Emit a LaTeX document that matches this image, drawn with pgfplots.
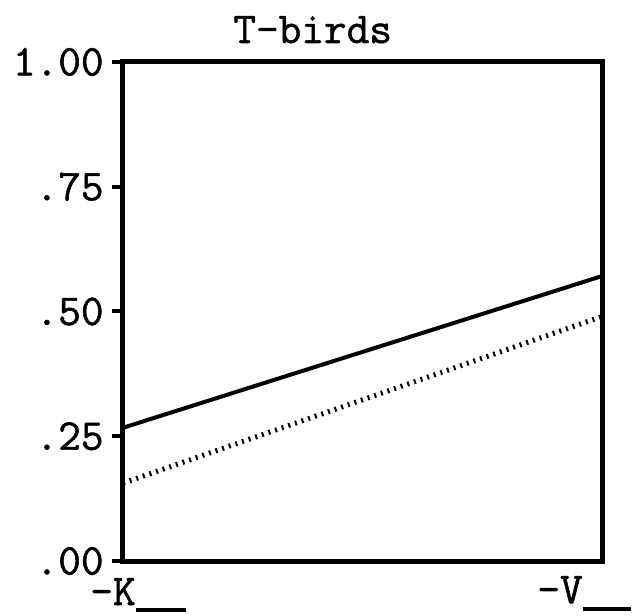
\documentclass[border=0pt]{standalone}
\usepackage{fontspec}
\setmainfont{Latin Modern Mono}[FakeBold=1.2]
\usepackage{pgfplots}
\pgfplotsset{compat=1.18}
\begin{document}
\begin{tikzpicture}
  \begin{axis}[
    at={(0,0)}, anchor=south west,
    scale only axis,
    width=239.5pt, height=249.5pt,
    xmin=0, xmax=1, ymin=0, ymax=1,
    xtick=\empty,
    ytick={0,0.25,0.5,0.75,1},
    yticklabels={.00,.25,.50,.75,1.00},
    ytick pos=left,
    tick align=outside,
    major tick length=5.5pt,
    tick style={line width=2pt, black},
    axis line style={line width=2.5pt, black},
    yticklabel style={font=\fontsize{22}{26}\selectfont, inner sep=4pt},
    clip=false
  ]
    % solid line
    \addplot[black, line width=2pt] coordinates {(0,0.267) (1,0.571)};
    % dotted line
    \addplot[black, line width=2.5pt, dash pattern=on 1pt off 2.5pt] coordinates {(0,0.156) (1,0.49)};
  \end{axis}
  \begin{scope}[font=\fontsize{22}{26}\selectfont]
    \node[anchor=base west, inner sep=0] at (55pt,259pt) {T-birds};
    \node[anchor=base west, inner sep=0] at (-16.5pt,-22pt) {-K\rule[-3.5pt]{25pt}{2pt}};
    \node[anchor=base west, inner sep=0] at (207pt,-21pt) {-V\rule[-4pt]{24pt}{2.2pt}};
  \end{scope}
  \pgfresetboundingbox
  \path[use as bounding box] (-61.5pt,-27pt) rectangle (256.5pt,280.5pt);
\end{tikzpicture}
\end{document}
